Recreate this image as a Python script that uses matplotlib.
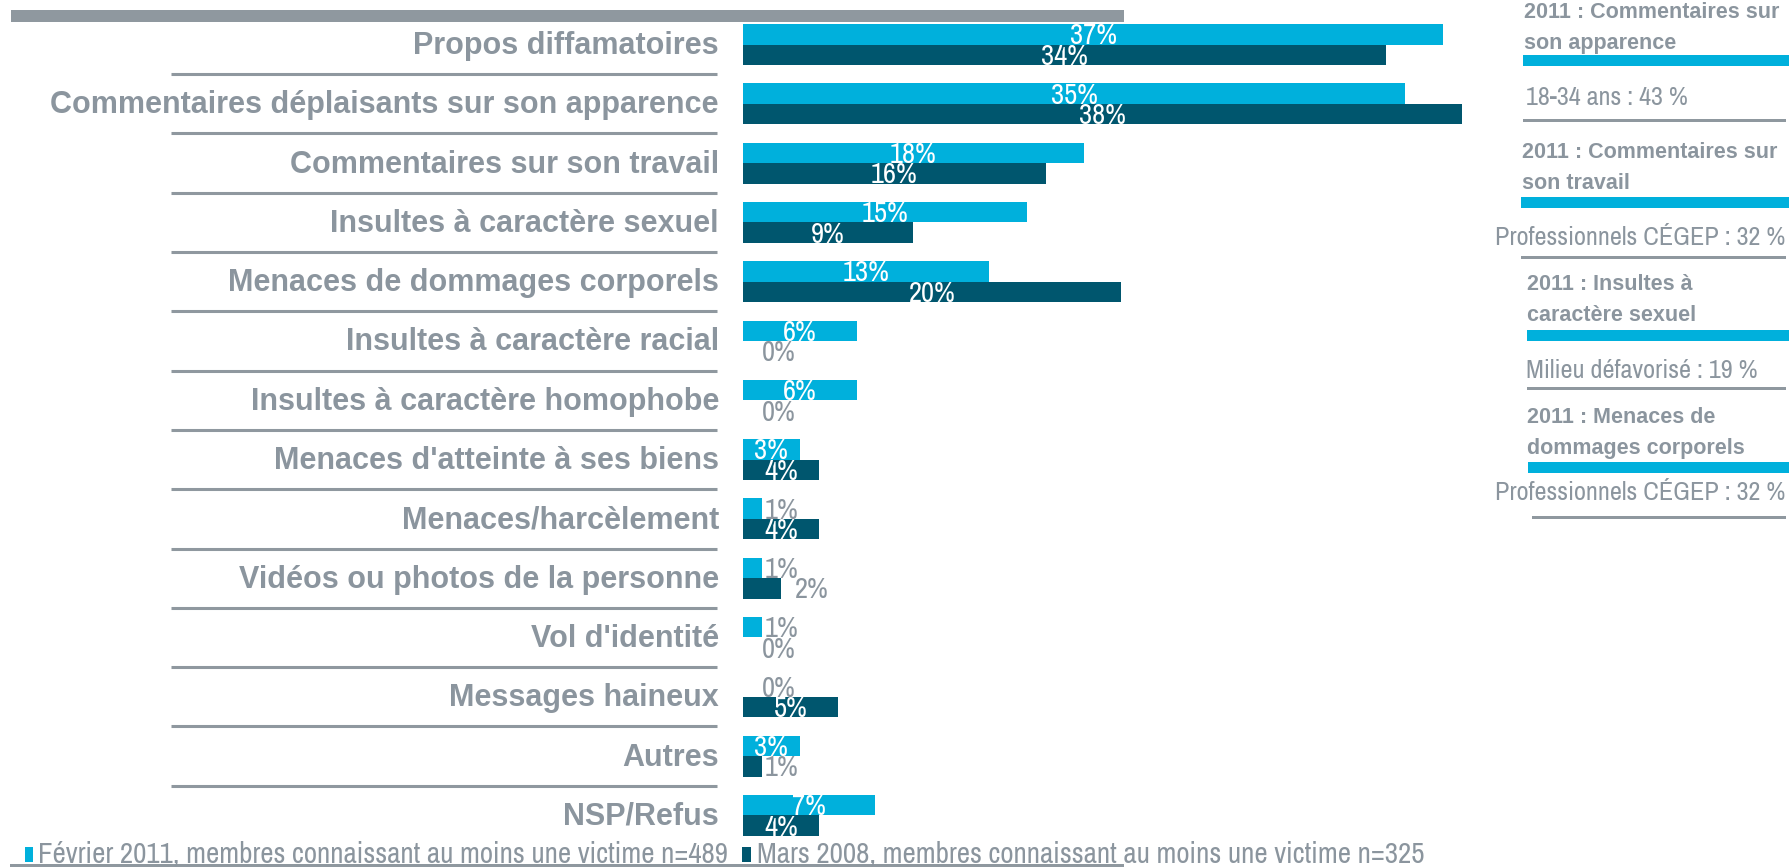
import matplotlib
matplotlib.use("Agg")
import matplotlib.pyplot as plt
from matplotlib import font_manager
from matplotlib.patches import Rectangle

# ---------------- data ----------------
categories = ["Propos diffamatoires",
              "Commentaires déplaisants sur son apparence",
              "Commentaires sur son travail",
              "Insultes à caractère sexuel",
              "Menaces de dommages corporels",
              "Insultes à caractère racial",
              "Insultes à caractère homophobe",
              "Menaces d'atteinte à ses biens",
              "Menaces/harcèlement",
              "Vidéos ou photos de la personne",
              "Vol d'identité",
              "Messages haineux",
              "Autres",
              "NSP/Refus"]
values_2011 = [37, 35, 18, 15, 13, 6, 6, 3, 1, 1, 1, 0, 3, 7]
values_2008 = [34, 38, 16, 9, 20, 0, 0, 4, 4, 2, 0, 5, 1, 4]
series_names = ["Février 2011, membres connaissant au moins une victime n=489",
                "Mars 2008, membres connaissant au moins une victime n=325"]
side_titles = ["2011 : Commentaires sur\nson apparence",
               "2011 : Commentaires sur\nson travail",
               "2011 : Insultes à\ncaractère sexuel",
               "2011 : Menaces de\ndommages corporels"]
side_values = ["18-34 ans : 43 %",
               "Professionnels CÉGEP : 32 %",
               "Milieu défavorisé : 19 %",
               "Professionnels CÉGEP : 32 %"]

# ---------------- style ----------------
LIGHT = "#00b0dc"
DARK = "#00566e"
GREY = "#8b959e"
LINE_GREY = "#8f989f"

plt.rcParams["font.family"] = ["Liberation Sans", "DejaVu Sans"]
avail = {f.name for f in font_manager.fontManager.ttflist}
narrow = "Liberation Sans"
for cand in ["Liberation Sans Narrow", "Archivo Narrow", "Roboto Condensed"]:
    if cand in avail:
        narrow = cand
        break
NARROW = [narrow, "Liberation Sans", "DejaVu Sans"]

W, H = 1790, 868
fig = plt.figure(figsize=(W / 100, H / 100), dpi=100)
renderer = fig.canvas.get_renderer()


def fit_size(text, target_px, family, weight="normal", base=20.0):
    t = fig.text(0, 0, text, fontsize=base, family=family, fontweight=weight)
    w = t.get_window_extent(renderer).width
    t.remove()
    return base * target_px / w


PCT_FS = fit_size("37%", 47, NARROW)
LEG_FS = fit_size(series_names[0], 690, NARROW)
VAL_FS = fit_size(side_values[1], 290, NARROW)

X0 = 743.0          # pixel x of value 0
PXPCT = 18.92       # pixels per percent
Y0 = 44.5           # pixel y (from top) of first row centre
ROW = 59.3          # pixels per row
XMAX = 40

ax = fig.add_axes([X0 / W, 0, XMAX * PXPCT / W, 1])
ax.set_xlim(0, XMAX)
ax.set_ylim((H - Y0) / ROW, -Y0 / ROW)
ax.axis("off")


def px_x(px):
    return (px - X0) / PXPCT


def px_dy(px):
    return px / ROW


n = len(categories)
h = px_dy(20.5)
ys = list(range(n))
ax.barh([y - h / 2 for y in ys], values_2011, height=h, color=LIGHT)
ax.barh([y + h / 2 for y in ys], values_2008, height=h, color=DARK)


def pct_label(y, v):
    if v > 2:
        ax.text(v / 2, y + px_dy(10), f"{v}%", ha="center", va="baseline",
                color="white", fontsize=PCT_FS, family=NARROW, clip_on=False)
    else:
        xl = max(v, 0.85) + 0.15 + (0.6 if v >= 2 else 0.0)
        ax.text(xl, y + px_dy(10), f"{v}%", ha="left",
                va="baseline", color=GREY, fontsize=PCT_FS, family=NARROW,
                clip_on=False)


for i in range(n):
    pct_label(i - h / 2, values_2011[i])
    pct_label(i + h / 2, values_2008[i])
    ax.text(px_x(719), i + px_dy(9.5), categories[i], ha="right", va="baseline",
            fontsize=22, fontweight="bold", color=GREY, clip_on=False)
    if i < n - 1:
        ax.plot([px_x(171), px_x(717)], [i + 0.5, i + 0.5], color=LINE_GREY,
                lw=2.2, solid_capstyle="butt", clip_on=False)

# ---------------- figure-level decorations ----------------
def fx(px):
    return px / W


def fy(py):
    return 1 - py / H


def rect(x0, y0, x1, y1, color):
    fig.add_artist(Rectangle((fx(x0), fy(y1)), fx(x1) - fx(x0), fy(y0) - fy(y1),
                             transform=fig.transFigure, color=color, lw=0))


rect(11, 10, 1124, 22, LINE_GREY)

# legend
rect(25, 847, 33, 862, LIGHT)
t1 = fig.text(fx(38), fy(862), series_names[0], fontsize=LEG_FS, family=NARROW,
              color=GREY, ha="left", va="baseline")
x_end = t1.get_window_extent(renderer).x1
rect(x_end + 14, 847, x_end + 23, 862, DARK)
fig.text(fx(x_end + 29), fy(862), series_names[1], fontsize=LEG_FS, family=NARROW,
         color=GREY, ha="left", va="baseline")
rect(10, 864, 1124, 867, LINE_GREY)

# right panel
title_base = [18, 158, 290, 423]
title_x = [1524, 1522, 1527, 1527]
blue_y = [55, 197, 330, 462]
blue_x = [1523, 1521, 1527, 1528]
val_base = [105, 245, 378, 500]
val_x = [1526, 1495, 1526, 1495]
grey_y = [119, 256, 387, 516]
grey_x = [1523, 1521, 1527, 1532]
for k in range(4):
    l1, l2 = side_titles[k].split("\n")
    fig.text(fx(title_x[k]), fy(title_base[k]), l1, fontsize=15.5,
             fontweight="bold", color=GREY, ha="left", va="baseline")
    fig.text(fx(title_x[k]), fy(title_base[k] + 31), l2, fontsize=15.5,
             fontweight="bold", color=GREY, ha="left", va="baseline")
    rect(blue_x[k], blue_y[k], W, blue_y[k] + 11, LIGHT)
    fig.text(fx(val_x[k]), fy(val_base[k]), side_values[k], fontsize=VAL_FS,
             family=NARROW, color=GREY, ha="left", va="baseline")
    rect(grey_x[k], grey_y[k], 1786, grey_y[k] + 3, LINE_GREY)

fig.savefig("out.png", dpi=100)
